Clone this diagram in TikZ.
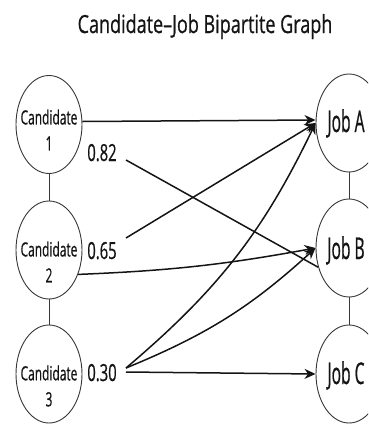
\documentclass[tikz,border=0pt]{standalone}
\usepackage{fontspec}
\setmainfont{Open Sans}
\newfontfamily\titlefont[FakeStretch=0.72,FakeBold=0.6]{Open Sans}
\newfontfamily\candfont[FakeStretch=0.61,FakeBold=0.6]{Open Sans}
\newfontfamily\numfont[FakeStretch=0.63,FakeBold=0.6]{Open Sans}
\newfontfamily\jobfont[FakeStretch=0.52,FakeBold=0.6]{Open Sans}
\usetikzlibrary{shapes.geometric,arrows.meta}
\definecolor{ink}{HTML}{141414}
\tikzset{
  bubble/.style={ellipse, draw=ink!85, line width=0.9pt, minimum width=66pt, minimum height=98pt, inner sep=0pt},
  candtext/.style={align=center, inner sep=0pt, text=ink, font=\candfont\fontsize{19.6}{26}\selectfont},
  jobtext/.style={text=ink, font=\jobfont\fontsize{30}{34}\selectfont},
  weight/.style={anchor=base, inner sep=0pt, text=ink, font=\numfont\fontsize{23.5}{28}\selectfont},
  conn/.style={line width=1.5pt, draw=ink},
  arr/.style={conn, -{Stealth[length=11pt,width=10pt,inset=3.5pt]}},
  link/.style={line width=0.9pt, draw=ink!85}
}
\begin{document}
\begin{tikzpicture}[x=1pt,y=-1pt]
\useasboundingbox (0,0) rectangle (368,424);
\clip (0,0) rectangle (368,424);
\node[anchor=base, inner sep=0pt, text=ink, font=\titlefont\fontsize{25}{30}\selectfont] (title) at (205,33) {Candidate–Job Bipartite Graph};
% candidate ellipses
\node[bubble] (c1) at (49,124.5) {};
\node[bubble] (c2) at (49,250) {};
\node[bubble] (c3) at (49,374) {};
\node[candtext] (c1t) at (49,130) {Candidate\\1};
\node[candtext] (c2t) at (49,262) {Candidate\\2};
\node[candtext] (c3t) at (49,386) {Candidate\\3};
% job ellipses
\node[bubble] (ja) at (349,123) {};
\node[bubble] (jb) at (349,248) {};
\node[bubble] (jc) at (349,374) {};
\node[jobtext, anchor=base, inner sep=0pt] (jat) at (346,132) {Job A};
\node[jobtext, anchor=base, inner sep=0pt] (jbt) at (346,259) {Job B};
\node[jobtext, anchor=base, inner sep=0pt] (jct) at (346,384) {Job C};
% vertical links
\draw[link] (c1) -- (c2);
\draw[link] (c2) -- (c3);
\draw[link] (ja) -- (jb);
\draw[link] (jb) -- (jc);
% weights
\node[weight] (w82) at (102,161) {0.82};
\node[weight] (w65) at (102,259) {0.65};
\node[weight] (w30) at (102,381) {0.30};
\coordinate (s82) at (126,160);
\coordinate (s65) at (126,238);
\coordinate (s30) at (126,368);
\coordinate (s30b) at (126,372);
% connectors
\draw[arr] ([yshift=3pt]c1.east) -- ([yshift=3pt]ja.west);
\draw[conn] (s82) -- (jb.212);
\draw[arr] (s65) -- (ja.west);
\draw[arr] (c2.-40) to[bend right=4] (jb.west);
\draw[arr] (s30) to[bend right=12] (ja.west);
\draw[arr] (s30) to[bend right=10] (jb.west);
\draw[arr] (s30b) -- (jc.west);
\end{tikzpicture}
\end{document}
